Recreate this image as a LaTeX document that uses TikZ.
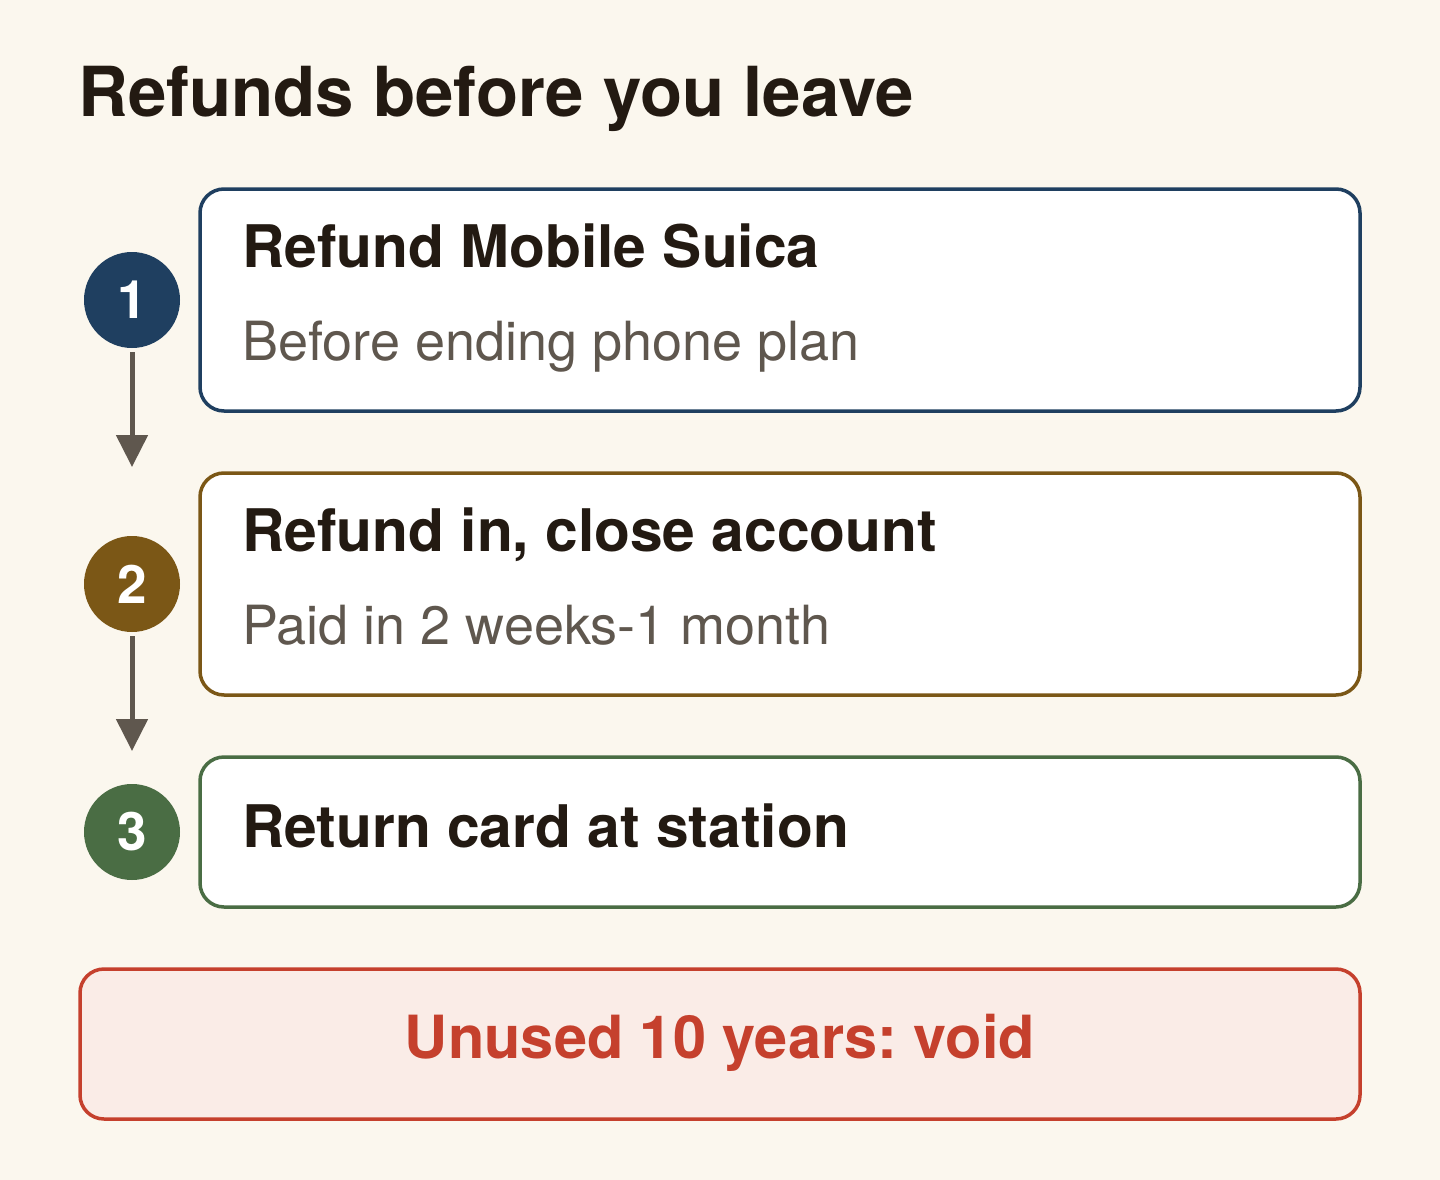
\documentclass[tikz,border=0pt]{standalone}
\usepackage{fontspec}
\setmainfont{TeX Gyre Heros}
\frenchspacing
\usetikzlibrary{arrows.meta}
\definecolor{pagecream}{HTML}{FBF7EE}
\definecolor{inkdark}{HTML}{231A12}
\definecolor{inkgray}{HTML}{5F574E}
\definecolor{stepnavy}{HTML}{1F3F60}
\definecolor{stepbrown}{HTML}{7B5716}
\definecolor{stepgreen}{HTML}{4A6D44}
\definecolor{warnred}{HTML}{C5402D}
\definecolor{warnpink}{HTML}{FAECE7}
\begin{document}
\begin{tikzpicture}[x=1pt, y=-1pt,
  card/.style={draw, line width=3.5pt, fill=white, rounded corners=24pt, minimum width=1160pt},
  stepdot/.style={circle, inner sep=0pt, minimum size=96pt, text=white, font=\fontsize{53}{53}\selectfont\bfseries},
  head/.style={anchor=base west, inner sep=0pt, text=inkdark, font=\fontsize{58.7}{58.7}\selectfont\bfseries},
  sub/.style={anchor=base west, inner sep=0pt, text=inkgray, font=\fontsize{54}{54}\selectfont},
  flowarrow/.style={draw=inkgray, line width=5pt, shorten <=4pt, -{Triangle[width=31pt, length=32pt]}}]
\fill[pagecream] (0,0) rectangle (1440,1180);
\useasboundingbox (0,0) rectangle (1440,1180);
\node[anchor=base west, inner sep=0pt, text=inkdark, font=\fontsize{69}{69}\selectfont\bfseries] (title) at (78,117) {Refunds before you leave};
% steps
\node[card, draw=stepnavy, minimum height=222pt] (card1) at (780,300) {};
\node[stepdot, fill=stepnavy] (num1) at (132,300) {1};
\node[head] (head1) at (242,267) {Refund Mobile Suica};
\node[sub] (sub1) at (242,360) {Before ending phone plan};
\node[card, draw=stepbrown, minimum height=222pt] (card2) at (780,584) {};
\node[stepdot, fill=stepbrown] (num2) at (132,584) {2};
\node[head] (head2) at (242,551) {Refund in, close account};
\node[sub] (sub2) at (242,644) {Paid in 2 weeks-1 month};
\node[card, draw=stepgreen, minimum height=150pt] (card3) at (780,832) {};
\node[stepdot, fill=stepgreen] (num3) at (132,832) {3};
\node[head] (head3) at (242,847) {Return card at station};
\coordinate (tip1) at (132,467);
\coordinate (tip2) at (132,751);
\draw[flowarrow] (num1) -- (tip1);
\draw[flowarrow] (num2) -- (tip2);
% warning
\node[card, draw=warnred, fill=warnpink, minimum width=1280pt, minimum height=150pt] (warn) at (720,1044) {};
\node[anchor=base, inner sep=0pt, text=warnred, font=\fontsize{59.5}{59.5}\selectfont\bfseries] (warntext) at (720,1058) {Unused 10 years: void};
\end{tikzpicture}
\end{document}
